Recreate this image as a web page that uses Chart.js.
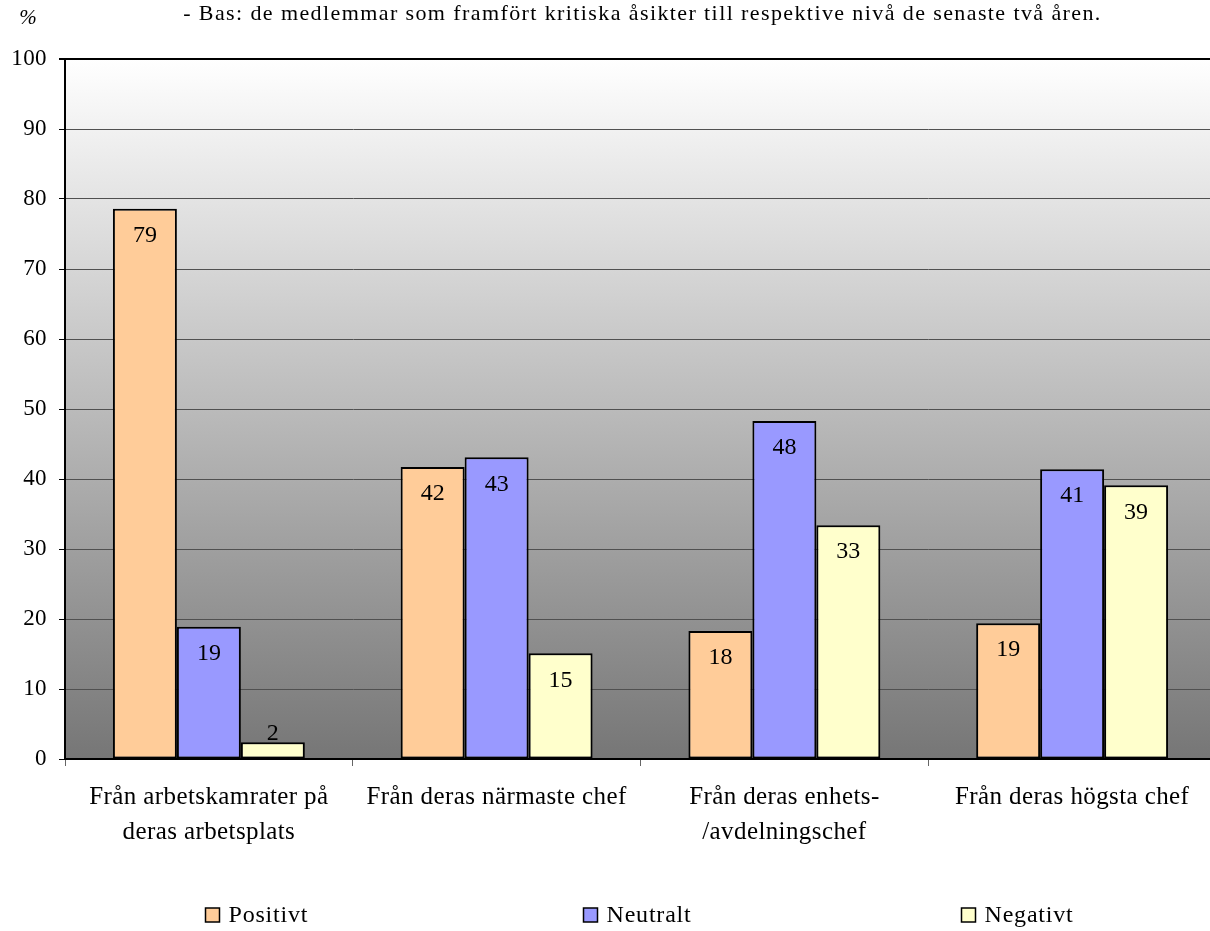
<!DOCTYPE html>
<html>
<head>
<meta charset="utf-8">
<script src="https://cdn.jsdelivr.net/npm/chart.js@4"></script>
<style>
  html, body { margin: 0; padding: 0; background: #fff; overflow: hidden; }
  #wrap { position: relative; width: 1218px; height: 931px; }
</style>
</head>
<body>
<div id="wrap"><canvas id="chart"></canvas></div>
<script>
// --- data ---
const titleText = '- Bas: de medlemmar som framfört kritiska åsikter till respektive nivå de senaste två åren.';
const unitText = '%';
const categories = [
  ['Från arbetskamrater på', 'deras arbetsplats'],
  ['Från deras närmaste chef'],
  ['Från deras enhets-', '/avdelningschef'],
  ['Från deras högsta chef']
];
const seriesNames = ['Positivt', 'Neutralt', 'Negativt'];
const positivt = [78.6, 41.7, 18.3, 19.4];
const neutralt = [18.9, 43.1, 48.3, 41.4];
const negativt = [2.4, 15.1, 33.4, 39.1];
const seriesColors = ['#FFCC99', '#9999FF', '#FFFFCC'];
const yTicks = [0, 10, 20, 30, 40, 50, 60, 70, 80, 90, 100];

const FONT = '"Liberation Serif", "Times New Roman", serif';

// background gradient, title, unit, value labels and legend
const excelLook = {
  id: 'excelLook',
  beforeLayout(chart) { chart.ctx.letterSpacing = '0.4px'; },
  beforeDraw(chart) {
    const { ctx, chartArea: a } = chart;
    ctx.letterSpacing = '0.4px';
    const g = ctx.createLinearGradient(0, a.top, 0, a.bottom);
    g.addColorStop(0, '#ffffff');
    g.addColorStop(1, '#767676');
    ctx.save();
    ctx.fillStyle = g;
    ctx.fillRect(a.left, a.top, a.right - a.left, a.bottom - a.top);
    ctx.restore();
  },
  afterDatasetsDraw(chart) {
    const ctx = chart.ctx;
    ctx.save();
    ctx.font = '24px ' + FONT;
    ctx.letterSpacing = '0px';
    ctx.fillStyle = '#000';
    ctx.textAlign = 'center';
    ctx.textBaseline = 'middle';
    chart.data.datasets.forEach((ds, i) => {
      chart.getDatasetMeta(i).data.forEach((bar, j) => {
        const h = bar.base - bar.y;
        const y = h > 40 ? bar.y + 27 : bar.y - 8;
        ctx.fillText(Math.round(ds.data[j]).toString(), bar.x, y);
      });
    });
    ctx.restore();
  },
  afterDraw(chart) {
    const { ctx, chartArea: a } = chart;
    const cx = (a.left + a.right) / 2;
    ctx.save();
    ctx.fillStyle = '#000';
    ctx.textBaseline = 'middle';
    // title
    ctx.font = '22px ' + FONT;
    ctx.letterSpacing = '1.4px';
    ctx.textAlign = 'center';
    ctx.fillText(titleText, cx + 2, 14);
    // unit
    ctx.letterSpacing = '0px';
    ctx.font = 'italic 21px ' + FONT;
    ctx.fillText(unitText, 28, 18);
    // legend
    ctx.font = '24px ' + FONT;
    ctx.letterSpacing = '0.8px';
    ctx.textAlign = 'left';
    chart.data.datasets.forEach((ds, i) => {
      const bx = cx - 57 + (i - 1) * 378;
      const by = 908;
      ctx.fillStyle = ds.backgroundColor;
      ctx.fillRect(bx, by, 14, 14);
      ctx.lineWidth = 1.5;
      ctx.strokeStyle = '#000';
      ctx.strokeRect(bx, by, 14, 14);
      ctx.fillStyle = '#000';
      ctx.fillText(ds.label, bx + 23, by + 8);
    });
    ctx.restore();
  }
};

const datasets = [positivt, neutralt, negativt].map((vals, i) => ({
  label: seriesNames[i],
  data: vals,
  backgroundColor: seriesColors[i],
  borderColor: '#000',
  borderWidth: 2,
  borderSkipped: false,
  categoryPercentage: 0.667,
  barPercentage: 1
}));

new Chart(document.getElementById('chart'), {
  type: 'bar',
  data: { labels: categories, datasets: datasets },
  options: {
    responsive: true,
    maintainAspectRatio: false,
    animation: false,
    layout: { padding: { top: 59, right: 2, left: 0, bottom: 0 } },
    plugins: {
      legend: { display: false },
      tooltip: { enabled: false }
    },
    scales: {
      x: {
        offset: true,
        grid: {
          offset: true,
          drawOnChartArea: false,
          drawTicks: true,
          tickLength: 7,
          tickColor: '#666'
        },
        border: { color: '#000', width: 2 },
        ticks: {
          color: '#000',
          padding: 14,
          maxRotation: 0,
          autoSkip: false,
          font: { family: FONT, size: 25, lineHeight: 1.4 }
        },
        afterFit(scale) { scale.height = 172; }
      },
      y: {
        min: 0,
        max: 100,
        afterBuildTicks(scale) { scale.ticks = yTicks.map(v => ({ value: v })); },
        grid: {
          color: (c) => c.tick && c.tick.value === 100 ? '#000' : '#505050',
          lineWidth: (c) => c.tick && c.tick.value === 100 ? 2 : 1,
          tickColor: '#000',
          tickLength: 6
        },
        border: { color: '#000', width: 2 },
        ticks: {
          color: '#000',
          padding: 12,
          font: { family: FONT, size: 23 }
        },
        afterFit(scale) { scale.width = 65; }
      }
    }
  },
  plugins: [excelLook]
});
</script>
</body>
</html>
